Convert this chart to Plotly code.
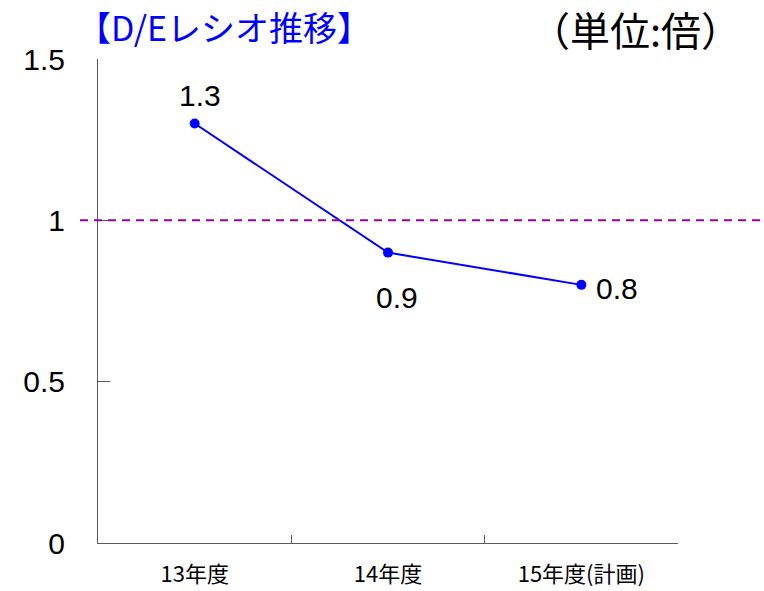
import plotly.graph_objects as go

categories = ["13年度", "14年度", "15年度(計画)"]
de_ratio = [1.3, 0.9, 0.8]
label_text = ["1.3", "0.9", "0.8"]
reference_level = 1
y_ticks = [0, 0.5, 1, 1.5]
y_tick_text = ["0", "0.5", "1", "1.5"]
title_text = "【D/Eレシオ推移】"
unit_text = "（単位:倍）"

W, H = 764, 591
ml, mr, mt, mb = 98, 86, 59, 48
pw, ph = W - ml - mr, H - mt - mb

fig = go.Figure()
fig.add_trace(go.Scatter(
    x=categories, y=de_ratio, mode="lines+markers",
    line=dict(color="#0000FF", width=2),
    marker=dict(color="#0000FF", size=10),
    hoverinfo="skip", showlegend=False, cliponaxis=False,
))

# dashed reference line at 1
fig.add_shape(type="line", xref="paper", yref="y",
              x0=(80 - ml) / pw, x1=(W - ml) / pw,
              y0=reference_level, y1=reference_level,
              line=dict(color="#990099", width=2, dash="8px,6px"))

num_font = dict(family="Liberation Sans, Arial", size=30, color="black")
label_cfg = [
    dict(xanchor="center", yanchor="bottom", xshift=5, yshift=10),
    dict(xanchor="center", yanchor="top", xshift=9, yshift=-26),
    dict(xanchor="left", yanchor="middle", xshift=13, yshift=-4),
]
for c, v, t, cfg in zip(categories, de_ratio, label_text, label_cfg):
    fig.add_annotation(x=c, y=v, xref="x", yref="y", text=t, showarrow=False,
                       font=num_font, **cfg)

fig.add_annotation(xref="paper", yref="paper", x=(224 - ml) / pw,
                   y=1 + (mt - 1) / ph, text=title_text, showarrow=False,
                   xanchor="center", yanchor="top", borderpad=0,
                   font=dict(family="Noto Sans CJK JP", size=34, color="#0000FF"))
fig.add_annotation(xref="paper", yref="paper", x=(635 - ml) / pw,
                   y=1 + (mt - 29) / ph, text=unit_text, showarrow=False,
                   xanchor="center", yanchor="middle",
                   font=dict(family="Noto Sans CJK JP", size=40, color="black"))

fig.update_layout(
    width=W, height=H,
    margin=dict(l=ml, r=mr, t=mt, b=mb, autoexpand=False),
    plot_bgcolor="white", paper_bgcolor="white",
    xaxis=dict(type="category", range=[-0.5, 2.5], showgrid=False, automargin=False,
               showline=True, linecolor="#595959", linewidth=1,
               ticks="inside", ticklen=8, tickcolor="#595959", tickson="boundaries",
               tickfont=dict(family="Noto Sans CJK JP", size=22, color="black"),
               ticklabelstandoff=12, zeroline=False, fixedrange=True),
    yaxis=dict(range=[0, 1.5], tickvals=y_ticks, ticktext=y_tick_text, automargin=False,
               showgrid=False, showline=True, linecolor="#595959", linewidth=1,
               ticks="inside", ticklen=12, tickcolor="#595959",
               tickfont=num_font, ticklabelstandoff=26, zeroline=False, fixedrange=True),
)

fig.write_html("out.html", config={"displayModeBar": False},
               post_script="document.body.style.margin='0';document.body.style.overflow='hidden';")
